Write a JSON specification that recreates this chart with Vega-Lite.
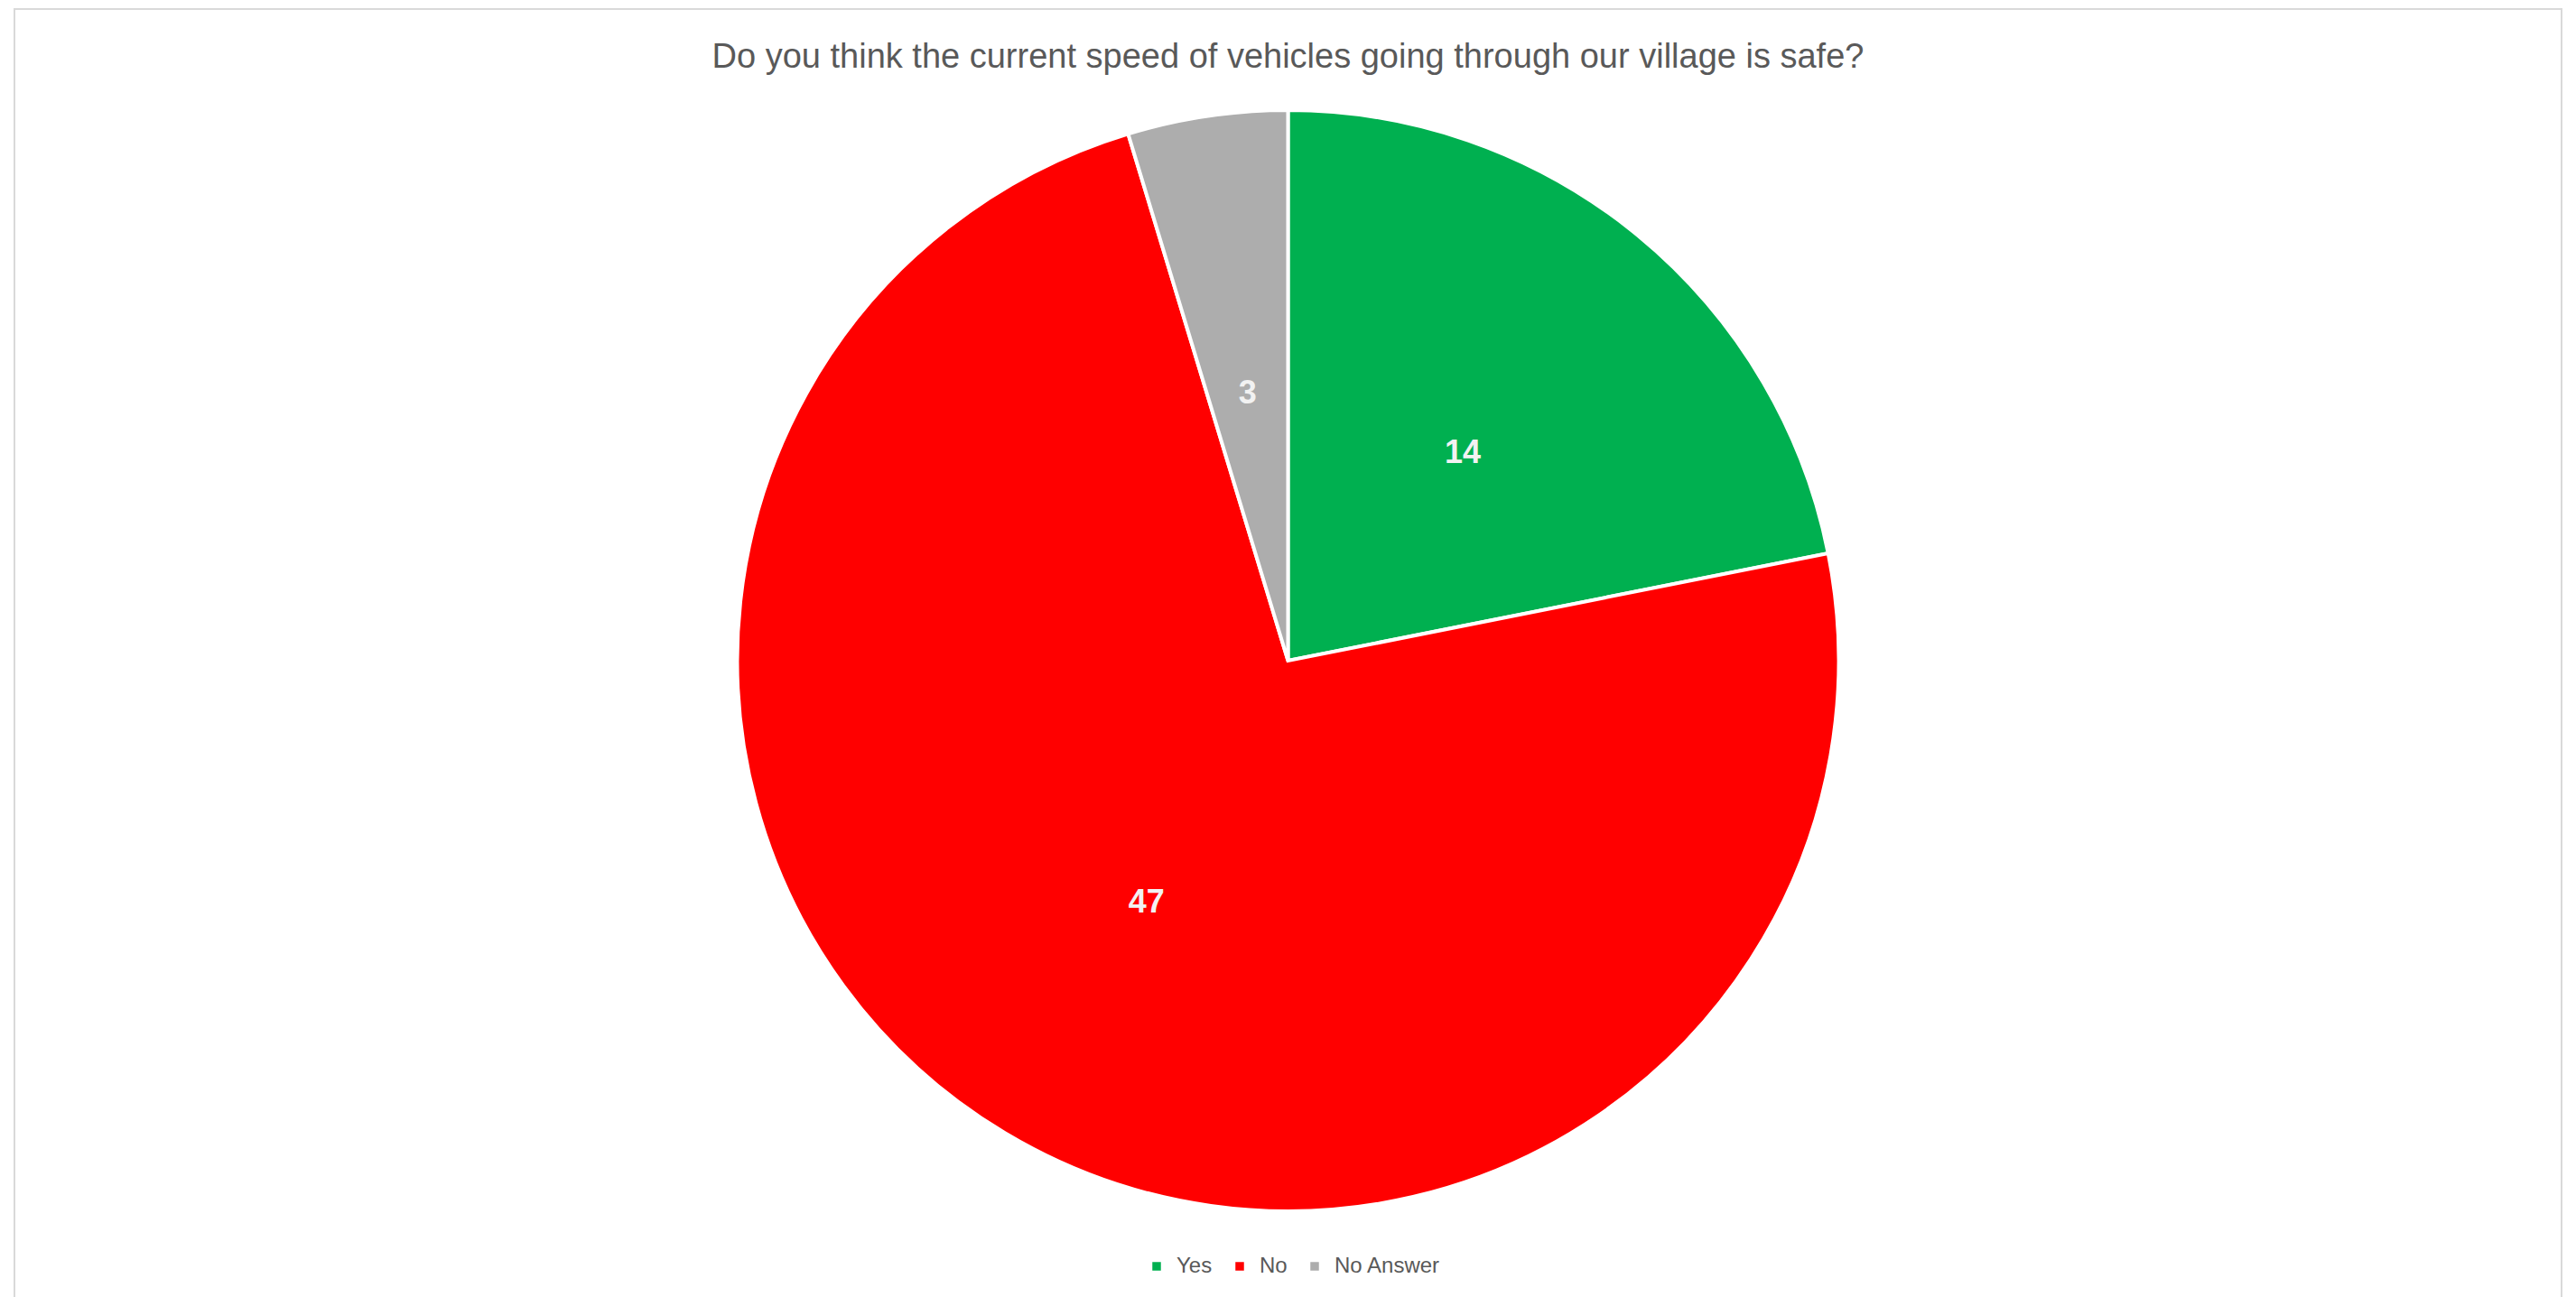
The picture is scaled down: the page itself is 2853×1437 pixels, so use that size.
{
  "$schema": "https://vega.github.io/schema/vega-lite/v6.json",
  "autosize": {"type": "none"},
  "padding": {"left": 16, "top": 10, "right": 16, "bottom": 0},
  "width": 2821,
  "height": 1444,
  "background": "white",
  "view": {"stroke": "#d9d9d9", "strokeWidth": 2, "fill": "white"},
  "config": {"view": {"stroke": "#d9d9d9", "strokeWidth": 2}},
  "title": {
    "text": "Do you think the current speed of vehicles going through our village is safe?",
    "font": "Liberation Sans",
    "fontSize": 38,
    "fontWeight": "normal",
    "color": "#595959",
    "anchor": "middle",
    "frame": "group",
    "baseline": "alphabetic",
    "offset": -103
  },
  "data": {
    "values": [
      {"answer": "Yes", "count": 14, "idx": 1},
      {"answer": "No", "count": 47, "idx": 2},
      {"answer": "No Answer", "count": 3, "idx": 3}
    ]
  },
  "encoding": {
    "theta": {"field": "count", "type": "quantitative", "stack": true},
    "order": {"field": "idx", "type": "quantitative"}
  },
  "layer": [
    {
      "mark": {"type": "arc", "radius": 610, "stroke": "white", "strokeWidth": 4},
      "encoding": {
        "color": {
          "field": "answer",
          "type": "nominal",
          "sort": ["Yes", "No", "No Answer"],
          "scale": {"domain": ["Yes", "No", "No Answer"], "range": ["#00B050", "#FF0000", "#ADADAD"]},
          "legend": {
            "title": null,
            "orient": "none",
            "direction": "horizontal",
            "legendX": 1253,
            "legendY": 1381,
            "padding": 0,
            "symbolType": "square",
            "symbolSize": 90,
            "symbolStrokeWidth": 0,
            "labelFont": "Liberation Sans",
            "labelFontSize": 24,
            "labelColor": "#595959",
            "labelOffset": 10,
            "columnPadding": 18
          }
        }
      }
    },
    {
      "mark": {"type": "text", "radius": 305, "dy": 6, "font": "Liberation Sans", "fontSize": 36, "fontWeight": "bold", "color": "#F2F2F2", "baseline": "middle", "align": "center"},
      "encoding": {
        "text": {"field": "count", "type": "quantitative"}
      }
    }
  ]
}
